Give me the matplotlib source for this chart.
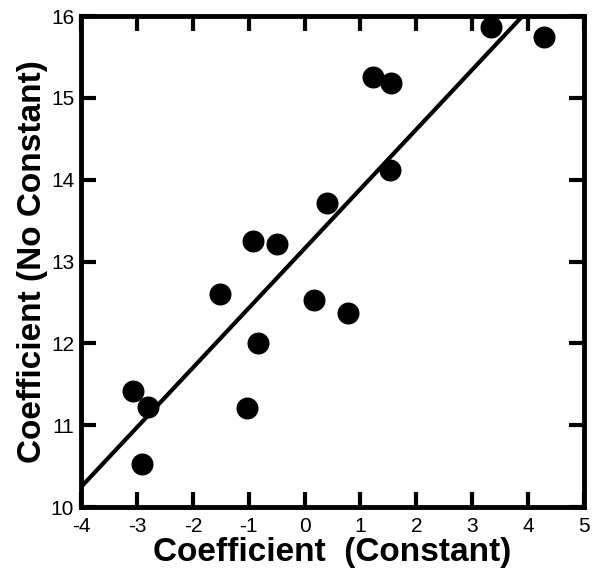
import numpy as np
import matplotlib.pyplot as plt

# coefficients
coef_constant = [-3.07, -2.80, -2.91, -1.03, -0.83, -1.51, -0.92, -0.49,
                 0.17, 0.78, 0.40, 1.53, 1.22, 1.55, 3.33, 4.28]
coef_no_constant = [11.42, 11.22, 10.53, 11.21, 12.00, 12.61, 13.25, 13.22,
                    12.53, 12.37, 13.72, 14.12, 15.26, 15.18, 15.87, 15.75]

# fitted line
fit_slope = 0.728
fit_intercept = 13.16
fit_x = [-4.0, 5.0]

x_ticks = [-4, -3, -2, -1, 0, 1, 2, 3, 4, 5]
y_ticks = [10, 11, 12, 13, 14, 15, 16]


def main():
    plt.rcParams['font.family'] = ['Liberation Sans', 'DejaVu Sans']
    plt.rcParams['axes.unicode_minus'] = False
    fig = plt.figure(figsize=(5.97, 5.75), dpi=100)
    ax = fig.add_axes([0.136, 0.118, 0.842, 0.854])

    fx = np.array(fit_x)
    ax.plot(fx, fit_slope * fx + fit_intercept, color='k', lw=3, zorder=2)
    ax.scatter(coef_constant, coef_no_constant, s=220, color='k', zorder=3)

    ax.set_xlim(-4, 5)
    ax.set_ylim(10, 16)
    ax.set_xticks(x_ticks)
    ax.set_yticks(y_ticks)
    ax.tick_params(direction='in', length=11, width=3, labelsize=15,
                   top=True, right=True)
    ax.tick_params(axis='x', pad=7)
    ax.tick_params(axis='y', pad=5)
    for spine in ax.spines.values():
        spine.set_linewidth(3.5)

    ax.set_xlabel('Coefficient  (Constant)', fontsize=24, fontweight='bold', labelpad=1)
    ax.set_ylabel('Coefficient (No Constant)', fontsize=24, fontweight='bold', labelpad=2)

    fig.savefig('out.png', dpi=100)
    return 0


if __name__ == "__main__":
    main()
